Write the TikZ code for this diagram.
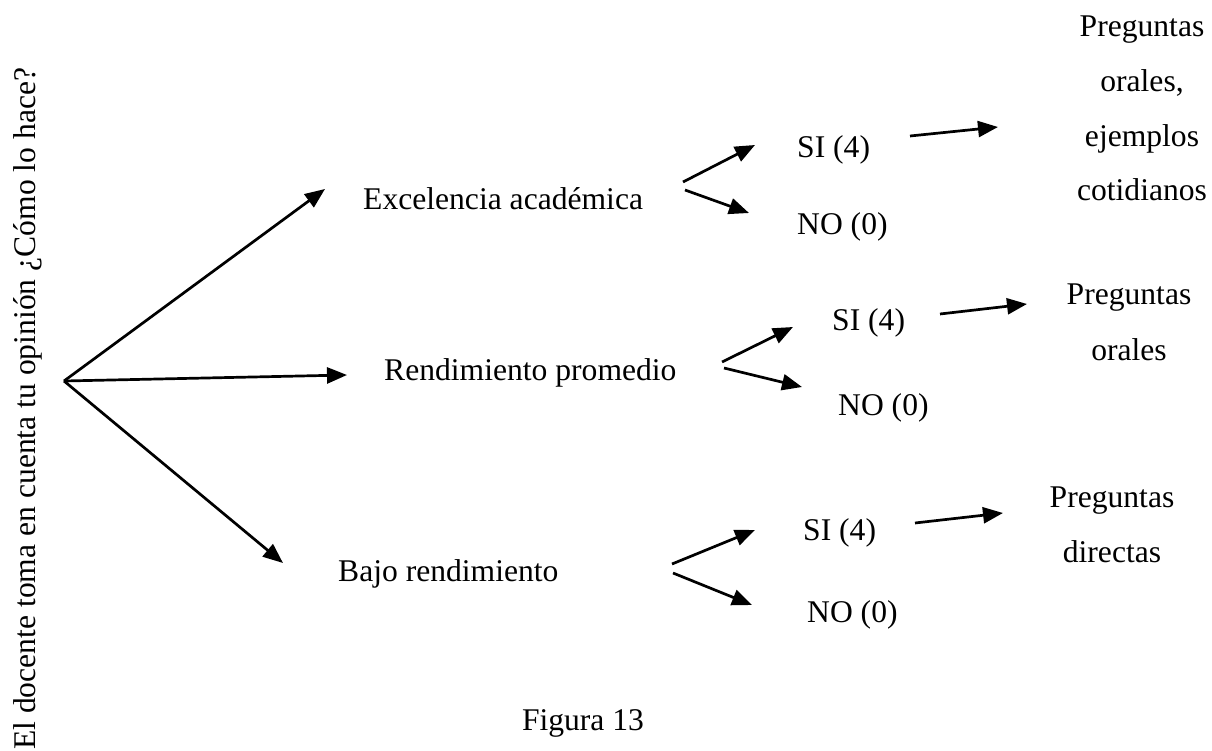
\documentclass[tikz,border=0pt]{standalone}
\usepackage{fontspec}
\setmainfont{Liberation Serif}
\usetikzlibrary{arrows.meta}
\begin{document}
\begin{tikzpicture}[x=1pt,y=-1pt,
  txt/.style={inner sep=0pt, anchor=base west, font=\fontsize{31.6}{38}\selectfont},
  ctxt/.style={inner sep=0pt, anchor=base, font=\fontsize{31.6}{38}\selectfont},
  arr/.style={-{Triangle[length=20pt,width=16pt]}, line width=2.7pt}]
\useasboundingbox (0,0) rectangle (1212,751);
% vertical title
\node[txt, rotate=90] (title) at (35,750) {El docente toma en cuenta tu opinión ¿Cómo lo hace?};
% level 1
\node[txt] (exc) at (363,210) {Excelencia académica};
\node[txt] (ren) at (384,380) {Rendimiento promedio};
\node[txt] (baj) at (338,581) {Bajo rendimiento};
% level 2
\node[txt] (si1) at (797,158) {SI (4)};
\node[txt] (no1) at (797,235) {NO (0)};
\node[txt] (si2) at (832,330) {SI (4)};
\node[txt] (no2) at (838,415) {NO (0)};
\node[txt] (si3) at (803,540) {SI (4)};
\node[txt] (no3) at (807,622) {NO (0)};
% level 3
\node[ctxt] (pa1) at (1142,37) {Preguntas};
\node[ctxt] (pa2) at (1142,92) {orales,};
\node[ctxt] (pa3) at (1142,147) {ejemplos};
\node[ctxt] (pa4) at (1142,201) {cotidianos};
\node[ctxt] (pb1) at (1129,305) {Preguntas};
\node[ctxt] (pb2) at (1129,360) {orales};
\node[ctxt] (pc1) at (1112,507) {Preguntas};
\node[ctxt] (pc2) at (1112,562) {directas};
% caption
\node[ctxt] (fig) at (583,730) {Figura 13};
% connector coordinates
\coordinate (root) at (64,381);
\coordinate (tExc) at (325,189);
\coordinate (tRen) at (347,375);
\coordinate (tBaj) at (283,563);
\coordinate (sExc) at (683,182);
\coordinate (sExc2) at (685,190);
\coordinate (tSi1) at (755,145);
\coordinate (tNo1) at (749,213);
\coordinate (sSi1) at (910,136);
\coordinate (tPa) at (998,127);
\coordinate (sRen) at (722,362);
\coordinate (sRen2) at (724,368);
\coordinate (tSi2) at (793,327);
\coordinate (tNo2) at (802,387);
\coordinate (sSi2) at (940,314);
\coordinate (tPb) at (1027,304);
\coordinate (sBaj) at (672,564);
\coordinate (sBaj2) at (673,573);
\coordinate (tSi3) at (755,530);
\coordinate (tNo3) at (752,605);
\coordinate (sSi3) at (915,523);
\coordinate (tPc) at (1003,513);
% connectors
\draw[arr] (root) -- (tExc);
\draw[arr] (root) -- (tRen);
\draw[arr] (root) -- (tBaj);
\draw[arr] (sExc) -- (tSi1);
\draw[arr] (sExc2) -- (tNo1);
\draw[arr] (sSi1) -- (tPa);
\draw[arr] (sRen) -- (tSi2);
\draw[arr] (sRen2) -- (tNo2);
\draw[arr] (sSi2) -- (tPb);
\draw[arr] (sBaj) -- (tSi3);
\draw[arr] (sBaj2) -- (tNo3);
\draw[arr] (sSi3) -- (tPc);
\end{tikzpicture}
\end{document}
